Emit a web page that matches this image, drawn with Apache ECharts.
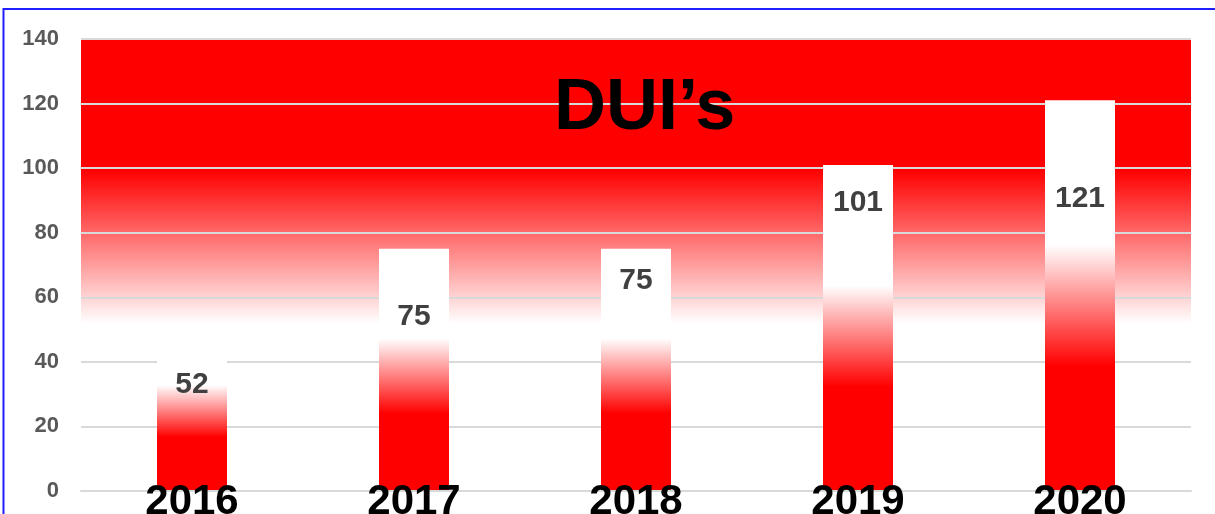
<!DOCTYPE html>
<html>
<head>
<meta charset="utf-8">
<title>DUI's</title>
<script src="https://cdn.jsdelivr.net/npm/echarts@6/dist/echarts.min.js"></script>
<style>
  html, body { margin: 0; padding: 0; background: #fff; }
  #chart { width: 1215px; height: 514px; }
</style>
</head>
<body>
<div id="chart"></div>
<script>
// data
const years = ['2016', '2017', '2018', '2019', '2020']
const duiCounts = [52, 75, 75, 101, 121]
const yTicks = [0, 20, 40, 60, 80, 100, 120, 140]

// labels were nudged by hand in the original, so each one sits at its own depth
const labelDrop = [47, 53, 17, 23, 83]

const font = "'Liberation Sans', Arial, sans-serif"

const barFill = new echarts.graphic.LinearGradient(0, 0, 0, 1, [
    { offset: 0, color: '#ffffff' },
    { offset: 0.37, color: '#ffffff' },
    { offset: 0.68, color: '#ff0000' },
    { offset: 1, color: '#ff0000' }
])

const plotFill = new echarts.graphic.LinearGradient(0, 0, 0, 1, [
    { offset: 0, color: '#ff0000' },
    { offset: 0.29, color: '#ff0000' },
    { offset: 0.63, color: '#ffffff' },
    { offset: 1, color: '#ffffff' }
])

const chart = echarts.init(document.getElementById('chart'), null, { renderer: 'canvas' })

chart.setOption({
    animation: false,
    title: {
        text: 'DUI\u2019s',
        left: 549,
        top: 68,
        textStyle: {
            fontFamily: font,
            fontSize: 72,
            fontWeight: 'bold',
            color: '#000000'
        }
    },
    grid: {
        show: true,
        left: 81,
        right: 24,
        top: 39,
        bottom: 23,
        containLabel: false,
        outerBoundsMode: 'none',
        borderWidth: 0,
        backgroundColor: plotFill
    },
    graphic: [{
        type: 'rect',
        shape: { x: 3.5, y: 9, width: 1300, height: 600 },
        style: { fill: 'none', stroke: '#1f1fff', lineWidth: 2 },
        silent: true
    }],
    xAxis: {
        type: 'category',
        data: years,
        axisTick: { show: false },
        axisLine: { show: true, lineStyle: { color: '#d9d9d9', width: 2 } },
        axisLabel: {
            margin: -10,
            fontFamily: font,
            fontSize: 42,
            fontWeight: 'bold',
            color: '#000000'
        },
        z: 5
    },
    yAxis: {
        type: 'value',
        min: yTicks[0],
        max: yTicks[yTicks.length - 1],
        interval: yTicks[1] - yTicks[0],
        axisLine: { show: false },
        axisTick: { show: false },
        axisLabel: {
            margin: 22,
            fontFamily: font,
            fontSize: 22,
            fontWeight: 'bold',
            color: '#595959'
        },
        splitLine: { lineStyle: { color: '#d9d9d9', width: 2 } }
    },
    series: [{
        type: 'bar',
        barWidth: 70,
        z: 3,
        itemStyle: { color: barFill },
        data: duiCounts.map((v, i) => ({
            value: v,
            label: { distance: labelDrop[i] }
        })),
        label: {
            show: true,
            position: 'insideTop',
            fontFamily: font,
            fontSize: 30,
            fontWeight: 'bold',
            color: '#404040'
        }
    }]
})
</script>
</body>
</html>
